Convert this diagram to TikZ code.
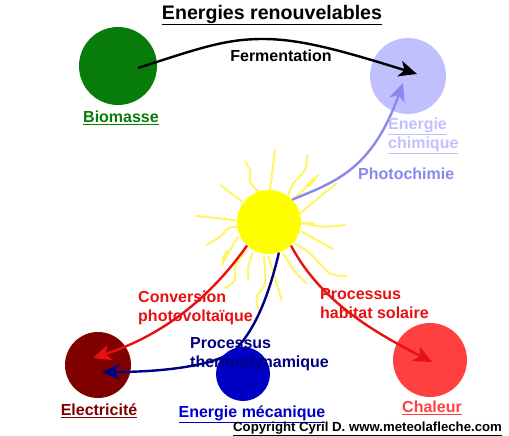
\documentclass[tikz,border=0pt]{standalone}
\usepackage{fontspec}
\setmainfont{Liberation Sans}
\usepackage{xcolor}
\usetikzlibrary{arrows.meta, positioning}
\definecolor{sunyellow}{HTML}{FFFF00}
\definecolor{rayyellow}{HTML}{FFF566}
\definecolor{biogreen}{HTML}{087C08}
\definecolor{chemblue}{HTML}{C0C0FF}
\definecolor{photoblue}{HTML}{8888EE}
\definecolor{elecred}{HTML}{800000}
\definecolor{mecablue}{HTML}{0000C4}
\definecolor{thermonavy}{HTML}{000080}
\definecolor{heatred}{HTML}{FF4040}
\definecolor{flowred}{HTML}{E81010}

\begin{document}
\begin{tikzpicture}[
    x=1pt, y=-1pt,
    source/.style={circle, minimum size=#1, inner sep=0pt},
    label/.style={inner sep=0pt, font=\fontsize{16}{19}\selectfont\bfseries},
    flowtext/.style={label, align=left, anchor=west},
    sunray/.style={draw=rayyellow, line width=2pt, line cap=round},
    flow/.style={line width=2.4pt, -{Stealth[length=18pt, width=16pt, inset=5pt]}}
]
\useasboundingbox (0,0) rectangle (509,436);

\node[label, font=\fontsize{19.6}{22}\selectfont\bfseries] (title) at (272,15) {\underline{Energies renouvelables}};

% Sun rays
\begin{scope}[shift={(180,150)}, x=0.3333pt, y=-0.3333pt]
\foreach \raypts in {
    {(284,0) (278,60) (270,120)},
    {(195,35) (210,60) (210,95) (235,125)},
    {(122,105) (155,132) (188,155)},
    {(48,198) (110,204) (170,212)},
    {(80,285) (120,260) (145,235) (170,230)},
    {(125,345) (150,300) (175,260)},
    {(135,415) (165,390) (165,350) (195,305)},
    {(205,390) (205,350) (218,310)},
    {(235,480) (230,440) (255,400) (252,320)},
    {(305,450) (290,400) (265,320)},
    {(380,400) (345,365) (310,310)},
    {(500,378) (450,370) (390,310) (345,280)},
    {(460,297) (400,265) (365,245)},
    {(495,225) (430,230) (365,220)},
    {(470,100) (420,140) (360,190)},
    {(415,75) (380,110) (340,150)},
    {(382,15) (375,60) (340,100) (325,135)}}
  \draw[sunray] plot[smooth] coordinates {\raypts};
\draw[sunray, line width=4pt] (402,88) -- (386,106);
\draw[sunray, line width=4pt] (130,330) -- (141,306);
\draw[sunray, line width=3pt] (368,220) -- (402,222);
\end{scope}

\node[source=64pt, fill=sunyellow] (sun) at (269,222) {};
\node[source=78pt, fill=biogreen] (biomasse) at (118,66) {};
\node[source=76pt, fill=chemblue] (chimique) at (408,76) {};
\node[source=66pt, fill=elecred] (electricite) at (98,365) {};
\node[source=74pt, fill=heatred] (chaleur) at (430,360) {};

% End points inside the circles
\coordinate (fermstart) at (138,68);
\coordinate (fermtip) at (417,74);
\coordinate (phototip) at (403,83);
\coordinate (pvtip) at (93,358);
\coordinate (thermobend) at (237,348);
\coordinate (thermotip) at (102,372);
\coordinate (heattip) at (432,362);

% Flows
\draw[flow] (fermstart) .. controls (200,48) and (225,39) .. (263,39) .. controls (300,39) and (340,50) .. (fermtip);
\draw[flow, photoblue] (sun.44) .. controls (335,182) and (372,170) .. (phototip);
\draw[flow, flowred] (sun.227) .. controls (205,305) and (155,338) .. (pvtip);
\draw[flow, flowred] (sun.313) .. controls (320,300) and (370,330) .. (heattip);
\draw[flow, thermonavy] (sun.288) .. controls (270,290) and (258,325) .. (thermobend) .. controls (222,364) and (170,372) .. (thermotip);

\node[source=54pt, fill=mecablue] (mecanique) at (243,374) {};

% Labels
\node[label, text=biogreen, below=6pt of biomasse, xshift=3pt] (biolabel) {\underline{Biomasse}};
\node[flowtext, text=chemblue] (chimlabel) at (388,136) {\underline{Energie}\\\underline{chimique}};
\node[label, text=elecred] (eleclabel) at (99,411) {\underline{Electricité}};
\node[label, text=mecablue] (mecalabel) at (252,414) {\underline{Energie mécanique}};
\node[label, text=heatred] (heatlabel) at (432,408) {\underline{Chaleur}};

\node[label] (fermlabel) at (281,56) {Fermentation};
\node[flowtext, text=photoblue] (photolabel) at (358,174) {Photochimie};
\node[flowtext, text=flowred] (pvlabel) at (138,308) {Conversion\\photovoltaïque};
\node[flowtext, text=flowred] (heatflow) at (320,304) {Processus\\habitat solaire};
\node[flowtext, text=thermonavy] (thermolabel) at (190,354) {Processus\\thermodynamique};

\node[label, font=\fontsize{13.2}{16}\selectfont\bfseries, anchor=west] (copyright) at (233,429) {\underline{Copyright Cyril D. www.meteolafleche.com}};
\end{tikzpicture}
\end{document}
